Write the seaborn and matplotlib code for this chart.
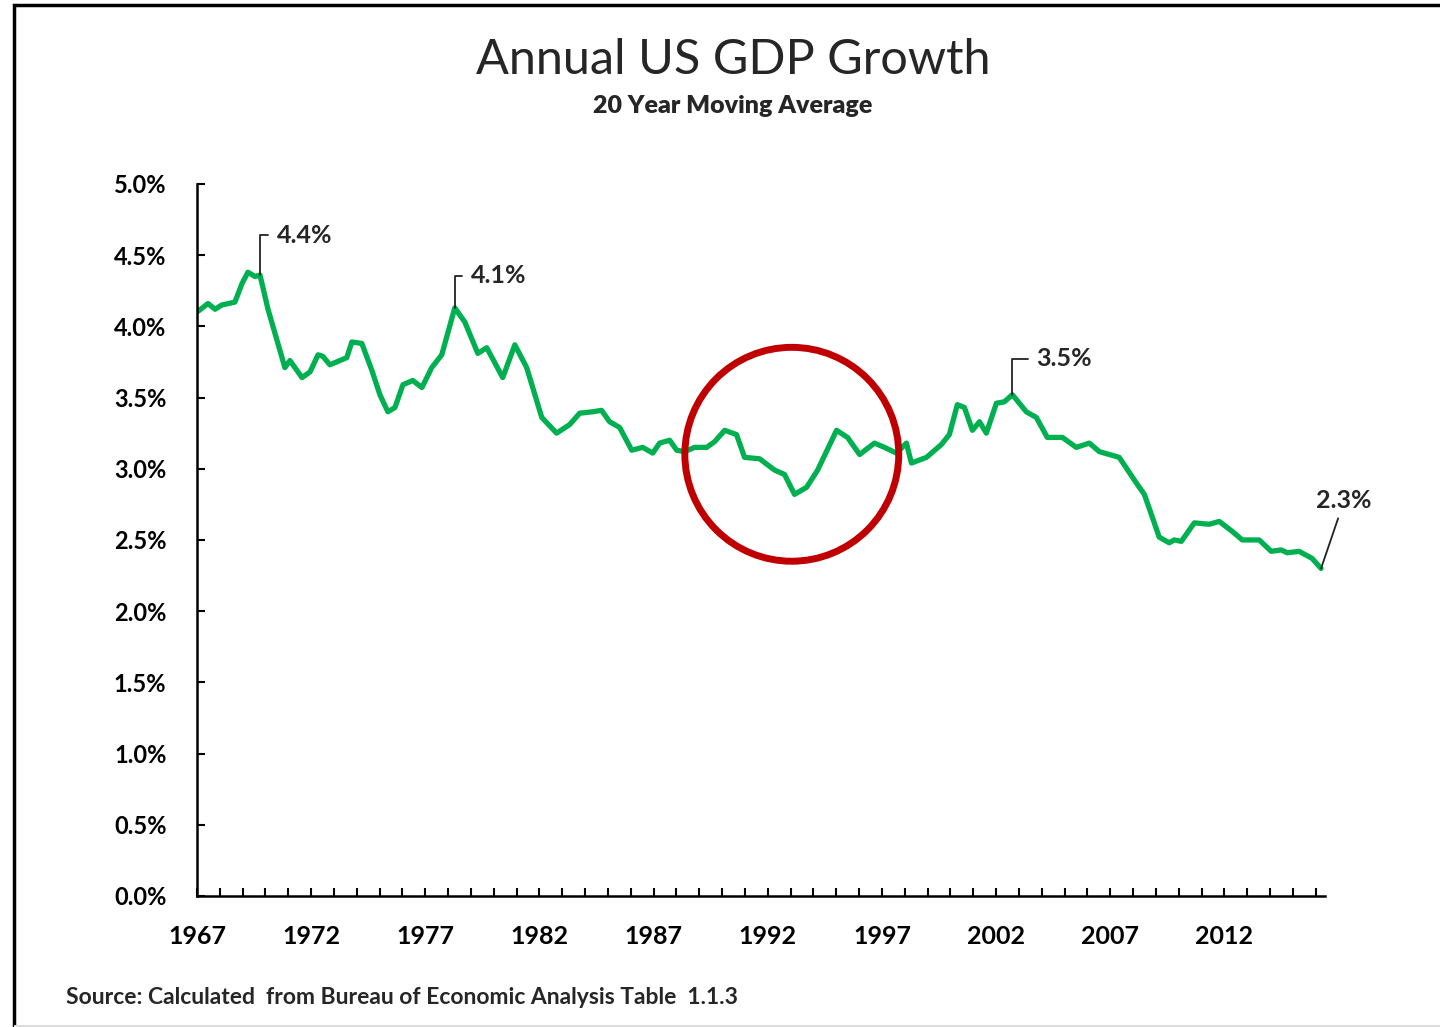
import numpy as np
import pandas as pd
import matplotlib.pyplot as plt
import seaborn as sns
from matplotlib.patches import Rectangle

# 20-year moving average of annual US GDP growth (%)
years = [
    1967.00, 1967.48, 1967.79, 1968.09, 1968.66, 1968.97, 1969.23, 1969.54, 1969.76, 1970.11,
    1970.85, 1971.07, 1971.60, 1971.95, 1972.30, 1972.51, 1972.82, 1973.26, 1973.56, 1973.78,
    1974.22, 1974.66, 1975.01, 1975.36, 1975.67, 1976.02, 1976.45, 1976.85, 1977.28, 1977.72,
    1978.29, 1978.73, 1979.30, 1979.69, 1980.39, 1980.92, 1981.44, 1982.10, 1982.75, 1983.32,
    1983.76, 1984.33, 1984.72, 1985.07, 1985.51, 1986.04, 1986.52, 1986.96, 1987.26, 1987.70,
    1988.01, 1988.36, 1988.79, 1989.32, 1989.67, 1990.11, 1990.63, 1990.98, 1991.64, 1992.30,
    1992.73, 1993.17, 1993.70, 1994.18, 1995.01, 1995.49, 1996.02, 1996.67, 1997.11, 1997.63,
    1998.07, 1998.29, 1998.95, 1999.60, 1999.95, 2000.30, 2000.61, 2000.96, 2001.27, 2001.57,
    2002.01, 2002.36, 2002.71, 2003.32, 2003.76, 2004.24, 2004.90, 2005.51, 2006.08, 2006.52,
    2007.39, 2008.14, 2008.49, 2008.84, 2009.14, 2009.58, 2009.80, 2010.11, 2010.68, 2011.33,
    2011.77, 2012.34, 2012.78, 2013.52, 2014.05, 2014.48, 2014.75, 2015.27, 2015.84, 2016.23,
]
growth = [
    4.10, 4.16, 4.12, 4.15, 4.17, 4.30, 4.38, 4.35, 4.36, 4.12,
    3.71, 3.76, 3.64, 3.68, 3.80, 3.79, 3.73, 3.76, 3.78, 3.89,
    3.88, 3.69, 3.52, 3.40, 3.43, 3.59, 3.62, 3.57, 3.71, 3.80,
    4.13, 4.03, 3.81, 3.85, 3.64, 3.87, 3.71, 3.36, 3.25, 3.31,
    3.39, 3.40, 3.41, 3.33, 3.29, 3.13, 3.15, 3.11, 3.18, 3.20,
    3.13, 3.12, 3.15, 3.15, 3.19, 3.27, 3.24, 3.08, 3.07, 2.99,
    2.96, 2.82, 2.87, 2.99, 3.27, 3.22, 3.10, 3.18, 3.15, 3.11,
    3.18, 3.04, 3.08, 3.17, 3.24, 3.45, 3.43, 3.27, 3.33, 3.25,
    3.46, 3.47, 3.52, 3.40, 3.36, 3.22, 3.22, 3.15, 3.18, 3.12,
    3.08, 2.90, 2.82, 2.66, 2.52, 2.48, 2.50, 2.49, 2.62, 2.61,
    2.63, 2.56, 2.50, 2.50, 2.42, 2.43, 2.41, 2.42, 2.37, 2.30,
]

# labelled points: (year, text)
peak_years = [1969.76, 1978.29, 2002.71]
peak_labels = ["4.4%", "4.1%", "3.5%"]
last_label = "2.3%"

# period highlighted with the red circle
highlight_span = (1988.3, 1997.8)

df = pd.DataFrame({"year": years, "growth": growth})

sns.set_style("white")
plt.rcParams["font.family"] = ["Lato", "DejaVu Sans"]

fig = plt.figure(figsize=(14.4, 10.27), dpi=100)
ax = fig.add_axes([0.1368, 0.1276, 0.7833, 0.6933])

sns.lineplot(data=df, x="year", y="growth", ax=ax, color="#00b050", lw=3.8)

ax.set_xlim(1967, 2016.4)
ax.set_ylim(0, 5)
ax.set_xlabel("")
ax.set_ylabel("")

yt = np.arange(0, 5.01, 0.5)
ax.set_yticks(yt)
ax.set_yticklabels([f"{v:.1f}%" for v in yt], fontsize=17, fontweight="bold")
xt = np.arange(1967, 2017)
ax.set_xticks(xt)
ax.set_xticklabels([str(y) if (y - 1967) % 5 == 0 else "" for y in xt],
                   fontsize=18, fontweight="bold")
ax.tick_params(axis="both", direction="in", length=6, width=1.5, colors="black",
               left=True, bottom=True)
ax.tick_params(axis="y", pad=22)
ax.tick_params(axis="x", pad=21)

sns.despine(ax=ax)
for side in ["left", "bottom"]:
    ax.spines[side].set_linewidth(1.8)
    ax.spines[side].set_color("black")

# peak callouts with elbow leader lines
lookup = dict(zip(years, growth))
offsets = [(17, 40), (16, 32), (24, 36)]
for yr, lab, (dx, dy) in zip(peak_years, peak_labels, offsets):
    ax.annotate(lab, xy=(yr, lookup[yr]), xytext=(dx * 0.72, dy * 0.72),
                textcoords="offset points", ha="left", va="center",
                fontsize=18, fontweight="bold",
                arrowprops=dict(arrowstyle="-", color="#222222", lw=1.3,
                                connectionstyle="angle,angleA=0,angleB=90,rad=0",
                                shrinkA=4, shrinkB=0))

ax.annotate(last_label, xy=(years[-1], growth[-1]), xytext=(23 * 0.72, 56 * 0.72),
            textcoords="offset points", ha="center", va="bottom",
            fontsize=18, fontweight="bold",
            arrowprops=dict(arrowstyle="-", color="#222222", lw=1.3,
                            shrinkA=2, shrinkB=0))

# red circle around the highlighted period
mask = (df["year"] >= highlight_span[0]) & (df["year"] <= highlight_span[1])
cx = sum(highlight_span) / 2
cy = df.loc[mask, "growth"].mean()
ax.scatter([cx], [cy], s=154 ** 2, facecolors="none", edgecolors="#c00000",
           linewidths=5, zorder=5, clip_on=False)

fig.text(0.509, 0.942, "Annual US GDP Growth", ha="center", va="center", fontsize=35)
fig.text(0.509, 0.897, "20 Year Moving Average", ha="center", va="center",
         fontsize=18, fontweight="heavy")
fig.text(0.046, 0.029, "Source: Calculated  from Bureau of Economic Analysis Table  1.1.3",
         ha="left", va="center", fontsize=16.5, fontweight="bold")

# page frame
fig.patches.append(Rectangle((14 / 1440, -0.05), 1.2, 1.05 - 5 / 1027,
                             transform=fig.transFigure, fill=False,
                             edgecolor="black", lw=2.5))
fig.patches.append(Rectangle((14 / 1440, 0.0), 1.0, 2 / 1027, transform=fig.transFigure,
                             facecolor="#dddddd", edgecolor="none"))

fig.savefig("out.png", dpi=100)
